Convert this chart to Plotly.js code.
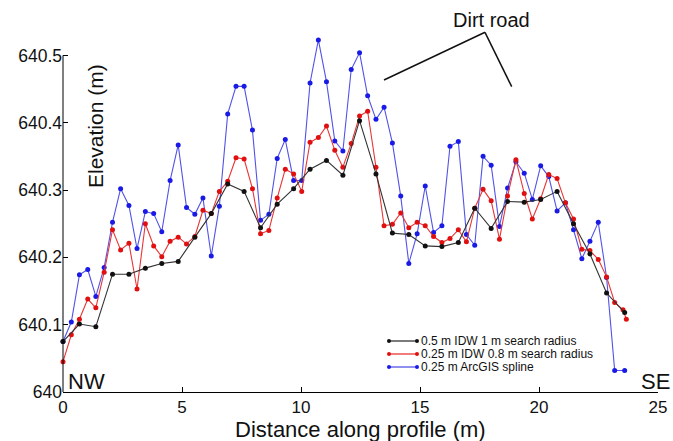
<!DOCTYPE html>
<html>
<head>
<meta charset="utf-8">
<script src="https://cdn.plot.ly/plotly-3.0.1.min.js"></script>
<style>html,body{margin:0;padding:0;background:#fff;}#chart{width:673px;height:441px;}</style>
</head>
<body>
<div id="chart"></div>
<script>
// Series names
const seriesNames = ["0.5 m IDW 1 m search radius", "0.25 m IDW 0.8 m search radius", "0.25 m ArcGIS spline"];

// Black series: 0.5 m IDW (distance along profile, m / elevation, m)
const xBlack = [0, 0.69, 1.38, 2.08, 2.77, 3.46, 4.15, 4.84, 5.54, 6.23, 6.92, 7.61, 8.30, 9.00, 9.69, 10.38, 11.07, 11.76, 12.46, 13.15, 13.84, 14.53, 15.22, 15.92, 16.61, 17.30, 17.99, 18.68, 19.38, 20.07, 20.76, 21.45, 22.14, 22.84, 23.60];
const yBlack = [640.075, 640.101, 640.097, 640.175, 640.175, 640.184, 640.191, 640.194, 640.230, 640.265, 640.309, 640.298, 640.244, 640.279, 640.302, 640.331, 640.344, 640.322, 640.403, 640.324, 640.236, 640.234, 640.217, 640.216, 640.222, 640.273, 640.243, 640.283, 640.282, 640.286, 640.298, 640.250, 640.205, 640.147, 640.118];

// Red series: 0.25 m IDW
const xRed = [0, 0.35, 0.69, 1.04, 1.38, 1.73, 2.08, 2.42, 2.77, 3.11, 3.46, 3.81, 4.15, 4.50, 4.84, 5.19, 5.54, 5.88, 6.23, 6.57, 6.92, 7.27, 7.61, 7.96, 8.30, 8.65, 9.00, 9.34, 9.69, 10.03, 10.38, 10.73, 11.07, 11.42, 11.76, 12.11, 12.46, 12.80, 13.15, 13.49, 13.84, 14.19, 14.53, 14.88, 15.22, 15.57, 15.92, 16.26, 16.61, 16.95, 17.30, 17.65, 17.99, 18.34, 18.68, 19.03, 19.38, 19.72, 20.07, 20.41, 20.76, 21.11, 21.45, 21.80, 22.14, 22.49, 22.84, 23.18, 23.53, 23.67];
const yRed = [640.045, 640.085, 640.108, 640.138, 640.125, 640.178, 640.241, 640.211, 640.221, 640.153, 640.250, 640.217, 640.201, 640.224, 640.230, 640.220, 640.231, 640.270, 640.265, 640.298, 640.313, 640.348, 640.346, 640.302, 640.235, 640.240, 640.288, 640.331, 640.324, 640.298, 640.371, 640.378, 640.395, 640.359, 640.334, 640.369, 640.410, 640.417, 640.334, 640.247, 640.249, 640.266, 640.244, 640.252, 640.247, 640.231, 640.222, 640.228, 640.241, 640.223, 640.273, 640.301, 640.284, 640.227, 640.291, 640.345, 640.295, 640.257, 640.287, 640.323, 640.317, 640.281, 640.257, 640.212, 640.210, 640.197, 640.171, 640.133, 640.122, 640.108];

// Blue series: 0.25 m ArcGIS spline
const xBlue = [0, 0.35, 0.69, 1.04, 1.38, 1.73, 2.08, 2.42, 2.77, 3.11, 3.46, 3.81, 4.15, 4.50, 4.84, 5.19, 5.54, 5.88, 6.23, 6.57, 6.92, 7.27, 7.61, 7.96, 8.30, 8.65, 9.00, 9.34, 9.69, 10.03, 10.38, 10.73, 11.07, 11.42, 11.76, 12.11, 12.46, 12.80, 13.15, 13.49, 13.84, 14.19, 14.53, 14.88, 15.22, 15.57, 15.92, 16.26, 16.61, 16.95, 17.30, 17.65, 17.99, 18.34, 18.68, 19.03, 19.38, 19.72, 20.07, 20.41, 20.76, 21.11, 21.45, 21.80, 22.14, 22.49, 22.84, 23.18, 23.60];
const yBlue = [640.075, 640.104, 640.174, 640.182, 640.142, 640.185, 640.252, 640.302, 640.277, 640.213, 640.268, 640.265, 640.238, 640.314, 640.367, 640.274, 640.264, 640.288, 640.202, 640.276, 640.413, 640.454, 640.454, 640.389, 640.255, 640.264, 640.347, 640.375, 640.314, 640.314, 640.459, 640.523, 640.461, 640.373, 640.358, 640.479, 640.504, 640.440, 640.405, 640.423, 640.370, 640.291, 640.191, 640.235, 640.306, 640.237, 640.247, 640.365, 640.372, 640.234, 640.218, 640.350, 640.337, 640.246, 640.303, 640.342, 640.325, 640.286, 640.336, 640.320, 640.269, 640.281, 640.241, 640.198, 640.224, 640.252, 640.170, 640.032, 640.032];

// Axis ticks
const xTicks = [0, 5, 10, 15, 20, 25];
const yTicks = [640, 640.1, 640.2, 640.3, 640.4, 640.5];
const yTickLabels = ["640", "640.1", "640.2", "640.3", "640.4", "640.5"];

const colors = ["#111111", "#e01010", "#1a1ae6"];
const lineColors = ["#333333", "#e83535", "#5252e8"];
const FONT = "Liberation Sans, Arial, Helvetica, sans-serif";

const xs = [xBlack, xRed, xBlue];
const ys = [yBlack, yRed, yBlue];
const order = [2, 1, 0];
const traces = order.map(k => ({
  type: "scatter", mode: "lines+markers",
  x: xs[k], y: ys[k], name: seriesNames[k],
  line: {color: lineColors[k], width: 1.1},
  marker: {color: colors[k], size: 5},
  cliponaxis: false, showlegend: false
}));

// Geometry: y range extended above 640.5 so the peaks are not clipped;
// the visible y axis line stops at 640.5 like the reference.
const yMin = 640, yTop = 640.5, yMax = 640.56;
const M = {l: 63, r: 15, t: 15, b: 49};
const W = 673, H = 441;
const plotW = W - M.l - M.r, plotH = H - M.t - M.b;
const plotL = M.l, plotB = H - M.b;
const px = X => (X - plotL) / plotW;
const py = Y => (plotB - Y) / plotH;
const axisTopPaper = (yTop - yMin) / (yMax - yMin);

const shapes = [];
const annotations = [];

// y axis line up to 640.5
shapes.push({type: "line", xref: "paper", yref: "paper", x0: 0, x1: 0, y0: 0, y1: axisTopPaper, line: {color: "#000", width: 1}});

// Compact legend
const legRows = [341, 354, 367];
seriesNames.forEach((nm, k) => {
  const yy = py(legRows[k]);
  shapes.push({type: "line", xref: "paper", yref: "paper", x0: px(389), x1: px(417), y0: yy, y1: yy, line: {color: lineColors[k], width: 1.3}});
  [389, 417].forEach(cx => shapes.push({type: "circle", xref: "paper", yref: "paper", x0: px(cx - 2), x1: px(cx + 2), y0: py(legRows[k] + 2), y1: py(legRows[k] - 2), fillcolor: colors[k], line: {color: colors[k], width: 0}}));
  annotations.push({xref: "paper", yref: "paper", x: px(420), y: yy, xanchor: "left", yanchor: "middle", text: nm, showarrow: false, borderpad: 0, font: {family: FONT, size: 12, color: "#111"}});
});

// Dirt road pointer
shapes.push({type: "line", xref: "paper", yref: "paper", x0: px(384), y0: py(80), x1: px(485), y1: py(32.3), line: {color: "#111", width: 1.5}});
shapes.push({type: "line", xref: "paper", yref: "paper", x0: px(485), y0: py(32.3), x1: px(511.7), y1: py(86.7), line: {color: "#111", width: 1.5}});
annotations.push({xref: "paper", yref: "paper", x: px(491), y: py(20), text: "Dirt road", showarrow: false, xanchor: "center", yanchor: "middle", font: {family: FONT, size: 20, color: "#111"}});
annotations.push({xref: "paper", yref: "paper", x: px(66), y: py(381), text: "NW", showarrow: false, xanchor: "left", yanchor: "middle", font: {family: FONT, size: 22, color: "#111"}});
annotations.push({xref: "paper", yref: "paper", x: px(672), y: py(381), text: "SE", showarrow: false, xanchor: "right", yanchor: "middle", font: {family: FONT, size: 22, color: "#111"}});
annotations.push({xref: "paper", yref: "paper", x: px(95), y: py(126), text: "Elevation (m)", textangle: -90, showarrow: false, xanchor: "center", yanchor: "middle", font: {family: FONT, size: 21, color: "#111"}});
annotations.push({xref: "paper", yref: "paper", x: px(360), y: py(429), text: "Distance along profile (m)", showarrow: false, borderpad: 0, xanchor: "center", yanchor: "middle", font: {family: FONT, size: 22, color: "#111"}});

const layout = {
  width: W, height: H,
  margin: {l: M.l, r: M.r, t: M.t, b: M.b, pad: 0},
  paper_bgcolor: "#fff", plot_bgcolor: "#fff",
  showlegend: false,
  xaxis: {
    range: [0, 25], tickvals: xTicks, ticks: "inside", ticklen: 5, tickcolor: "#000",
    showline: true, linecolor: "#000", linewidth: 1, showgrid: false, zeroline: false,
    tickfont: {family: FONT, size: 17, color: "#111"}
  },
  yaxis: {
    range: [yMin, yMax], tickvals: yTicks, ticktext: yTickLabels, ticks: "inside", ticklen: 5, tickcolor: "#000",
    showline: false, showgrid: false, zeroline: false,
    tickfont: {family: FONT, size: 17.5, color: "#111"}
  },
  shapes: shapes,
  annotations: annotations
};

Plotly.newPlot("chart", traces, layout, {displayModeBar: false, staticPlot: true});
</script>
</body>
</html>
